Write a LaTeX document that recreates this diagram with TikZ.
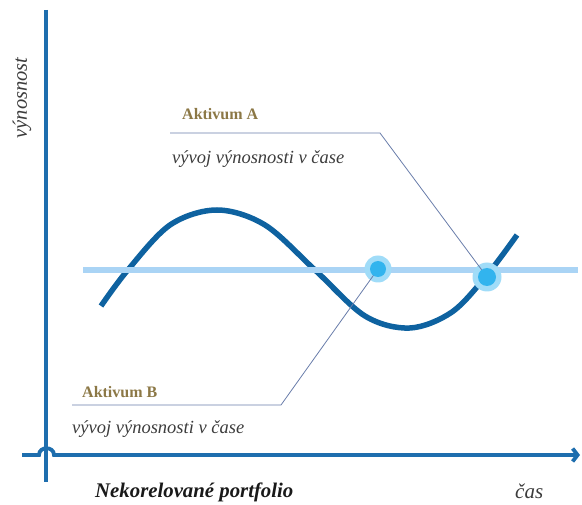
\documentclass[tikz,border=0pt]{standalone}
\usepackage{fontspec}
\setmainfont{Liberation Serif}
\usetikzlibrary{arrows.meta}
\definecolor{axisblue}{RGB}{30,110,174}
\definecolor{curveblue}{RGB}{14,98,160}
\definecolor{lightline}{RGB}{170,212,245}
\definecolor{ringcol}{RGB}{160,220,248}
\definecolor{dotcol}{RGB}{50,180,238}
\definecolor{callcol}{RGB}{105,125,170}
\definecolor{goldtext}{RGB}{140,120,70}
\definecolor{graytext}{RGB}{60,60,60}
\tikzset{
  axisline/.style={draw=axisblue, line width=3.8pt},
  callout/.style={draw=callcol, line width=0.8pt},
  titlelbl/.style={inner sep=0pt, anchor=base west, text=goldtext, font=\fontsize{16}{16}\selectfont\bfseries},
  desclbl/.style={inner sep=0pt, anchor=base west, text=graytext, font=\fontsize{18.5}{18.5}\selectfont\itshape},
}
\begin{document}
\begin{tikzpicture}[x=1pt, y=-1pt]
\useasboundingbox (0,0) rectangle (582,505);
% axes
\coordinate (vtop) at (46,10);
\coordinate (vbot) at (46,482);
\coordinate (hl) at (22,455);
\coordinate (hr) at (580,455);
\draw[axisline] (vtop) -- (vbot);
\draw[axisline, -{Straight Barb[length=5pt,width=13pt]}] (hl) -- (39,455) .. controls (39,446) and (54,446) .. (54,455) -- (hr);
% curve
\draw[curveblue, line width=5.5pt] plot[smooth, tension=0.55] coordinates {(101,306) (127,271) (170,225) (217,210) (265,225) (315,270) (365,316) (410,328) (452,312) (487,275) (517,235)};
% light line
\coordinate (ll) at (83,270);
\coordinate (lr) at (578,270);
\draw[lightline, line width=6pt] (ll) -- (lr);
% circles
\coordinate (c1) at (378,269);
\coordinate (c2) at (487,277);
\fill[ringcol] (c1) circle[radius=13.5pt];
\fill[ringcol] (c2) circle[radius=14.5pt];
% callouts
\coordinate (a0) at (170,133);
\coordinate (a1) at (380,133);
\coordinate (b0) at (72,405);
\coordinate (b1) at (281,405);
\draw[callout] (a0) -- (a1) -- (c2);
\draw[callout] (b0) -- (b1) -- (c1);
\fill[dotcol] (c1) circle[radius=8pt];
\fill[dotcol] (c2) circle[radius=9pt];
% labels
\node[titlelbl] (ta) at (182,120) {Aktivum A};
\node[desclbl] (da) at (172,164) {vývoj výnosnosti v čase};
\node[titlelbl] (tb) at (82,398) {Aktivum B};
\node[desclbl] (db) at (72,434) {vývoj výnosnosti v čase};
\node[inner sep=0pt, anchor=base west, text=black!90, font=\fontsize{20.8}{20.8}\selectfont\bfseries\itshape] (np) at (95,498) {Nekorelované portfolio};
\node[inner sep=0pt, anchor=base west, text=graytext, font=\fontsize{21}{21}\selectfont\itshape] (cas) at (515,499) {čas};
\node[inner sep=0pt, anchor=base, rotate=90, text=graytext, font=\fontsize{20.5}{20.5}\selectfont\itshape] (vyn) at (27,98) {výnosnost};
\end{tikzpicture}
\end{document}
